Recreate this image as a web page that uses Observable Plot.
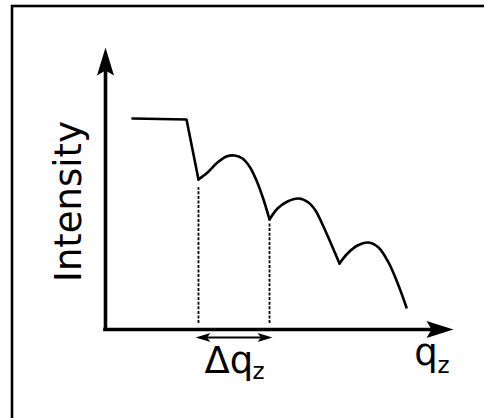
<!DOCTYPE html>
<html><head><meta charset="utf-8">
<script src="https://cdn.jsdelivr.net/npm/d3@7"></script>
<script src="https://cdn.jsdelivr.net/npm/@observablehq/plot@0.6"></script>
<style>body{margin:0;background:#fff}</style>
</head><body><div id="chart"></div>
<script>
// Plateau (total reflection) then the sharp drop to the first minimum
const plateauQ = [0.776, 2.328, 2.672];
const plateauI = [7.482, 7.447, 5.319];

// Kiessig fringes: three arcs between minima
const fringeSeg = [1,1,1,1,1,1,1,1,1,1, 2,2,2,2,2,2,2,2,2, 3,3,3,3,3,3,3,3];
const fringeQ = [2.672, 2.931, 3.218, 3.477, 3.707, 3.937, 4.138, 4.339, 4.540, 4.713,
                 4.713, 4.943, 5.230, 5.546, 5.833, 6.034, 6.236, 6.466, 6.724,
                 6.724, 6.954, 7.241, 7.557, 7.845, 8.132, 8.420, 8.649];
const fringeI = [5.319, 5.567, 5.922, 6.135, 6.170, 6.064, 5.780, 5.284, 4.610, 3.901,
                 3.901, 4.291, 4.539, 4.645, 4.504, 4.220, 3.723, 3.085, 2.340,
                 2.340, 2.695, 2.979, 3.085, 2.908, 2.376, 1.560, 0.780];

// Dashed markers at the first two minima
const minimaQ = [2.672, 4.713];
const minimaTopI = [5.03, 3.76];
const minimaBottomI = 0.21;

// Axes (arbitrary units)
const axisMax = 10;
const xAxisEnd = 9.6;
const yAxisEnd = 9.2;

// Δq double arrow
const deltaLevel = -0.284;
const deltaTips = [2.586, 4.799];
const deltaShaft = [2.75, 4.64];

// Labels
const yLabel = "Intensity";
const yLabelPos = {q: -0.718, i: 4.539};
const deltaLabel = "Δq";
const deltaLabelPos = {q: 2.845, i: -1.525};
const deltaSub = "z";
const deltaSubPos = {q: 4.225, i: -1.773};
const xLabel = "q";
const xLabelPos = {q: 8.87, i: -1.276};
const xSub = "z";
const xSubPos = {q: 9.54, i: -1.56};

function arrowSymbol(dir, L, N, W) {
  return {
    draw(ctx) {
      if (dir === "right") { ctx.moveTo(0,0); ctx.lineTo(-L,-W); ctx.lineTo(-N,0); ctx.lineTo(-L,W); }
      else if (dir === "left") { ctx.moveTo(0,0); ctx.lineTo(L,-W); ctx.lineTo(N,0); ctx.lineTo(L,W); }
      else { ctx.moveTo(0,0); ctx.lineTo(-W,L); ctx.lineTo(0,N); ctx.lineTo(W,L); }
      ctx.closePath();
    }
  };
}

const plateau = plateauQ.map((q, k) => ({q, i: plateauI[k]}));
const fringes = fringeQ.map((q, k) => ({q, i: fringeI[k], seg: fringeSeg[k]}));
const minima = minimaQ.map((q, k) => ({q, top: minimaTopI[k], bottom: minimaBottomI}));

const font = "DejaVu Sans";

const chart = Plot.plot({
  width: 484,
  height: 418,
  margin: 0,
  x: {domain: [0, axisMax], range: [105, 453], axis: null},
  y: {domain: [0, axisMax], range: [329, 47], axis: null},
  marks: [
    Plot.frame({stroke: "black", strokeWidth: 2.6, insetLeft: 11.5, insetTop: 5.5, insetRight: -20, insetBottom: -20}),
    // axes
    Plot.ruleY([0], {x1: 0, x2: xAxisEnd, stroke: "black", strokeWidth: 3.6, strokeLinecap: "square"}),
    Plot.ruleX([0], {y1: 0, y2: yAxisEnd, stroke: "black", strokeWidth: 3.6, strokeLinecap: "square"}),
    Plot.dot([{q: axisMax, i: 0}], {x: "q", y: "i", symbol: arrowSymbol("right", 27, 22, 8.5), fill: "black", stroke: null}),
    Plot.dot([{q: 0, i: axisMax}], {x: "q", y: "i", symbol: arrowSymbol("up", 28, 23, 8.5), fill: "black", stroke: null}),
    // dashed minima markers
    Plot.ruleX(minima, {x: "q", y1: "bottom", y2: "top", stroke: "black", strokeWidth: 1.8, strokeDasharray: "3,1.6"}),
    // curve
    Plot.line(plateau, {x: "q", y: "i", stroke: "black", strokeWidth: 2.6, strokeLinejoin: "miter"}),
    Plot.line(fringes, {x: "q", y: "i", z: "seg", stroke: "black", strokeWidth: 2.6, curve: "catmull-rom"}),
    // Δq double arrow
    Plot.ruleY([deltaLevel], {x1: deltaShaft[0], x2: deltaShaft[1], stroke: "black", strokeWidth: 1.8}),
    Plot.dot([{q: deltaTips[0], i: deltaLevel}], {x: "q", y: "i", symbol: arrowSymbol("left", 15, 11.5, 4.6), fill: "black", stroke: null}),
    Plot.dot([{q: deltaTips[1], i: deltaLevel}], {x: "q", y: "i", symbol: arrowSymbol("right", 15, 11.5, 4.6), fill: "black", stroke: null}),
    // labels
    Plot.text([yLabel], {x: () => yLabelPos.q, y: () => yLabelPos.i, text: d => d, rotate: -90, textAnchor: "middle", lineAnchor: "bottom", fontSize: 37, fontFamily: font, fill: "black"}),
    Plot.text([deltaLabel], {x: () => deltaLabelPos.q, y: () => deltaLabelPos.i, text: d => d, textAnchor: "start", lineAnchor: "bottom", fontSize: 37, fontFamily: font, fill: "black"}),
    Plot.text([deltaSub], {x: () => deltaSubPos.q, y: () => deltaSubPos.i, text: d => d, textAnchor: "start", lineAnchor: "bottom", fontSize: 23, fontFamily: font, fill: "black"}),
    Plot.text([xLabel], {x: () => xLabelPos.q, y: () => xLabelPos.i, text: d => d, textAnchor: "start", lineAnchor: "bottom", fontSize: 37, fontFamily: font, fill: "black"}),
    Plot.text([xSub], {x: () => xSubPos.q, y: () => xSubPos.i, text: d => d, textAnchor: "start", lineAnchor: "bottom", fontSize: 23, fontFamily: font, fill: "black"})
  ]
});
document.getElementById("chart").appendChild(chart);
</script></body></html>
